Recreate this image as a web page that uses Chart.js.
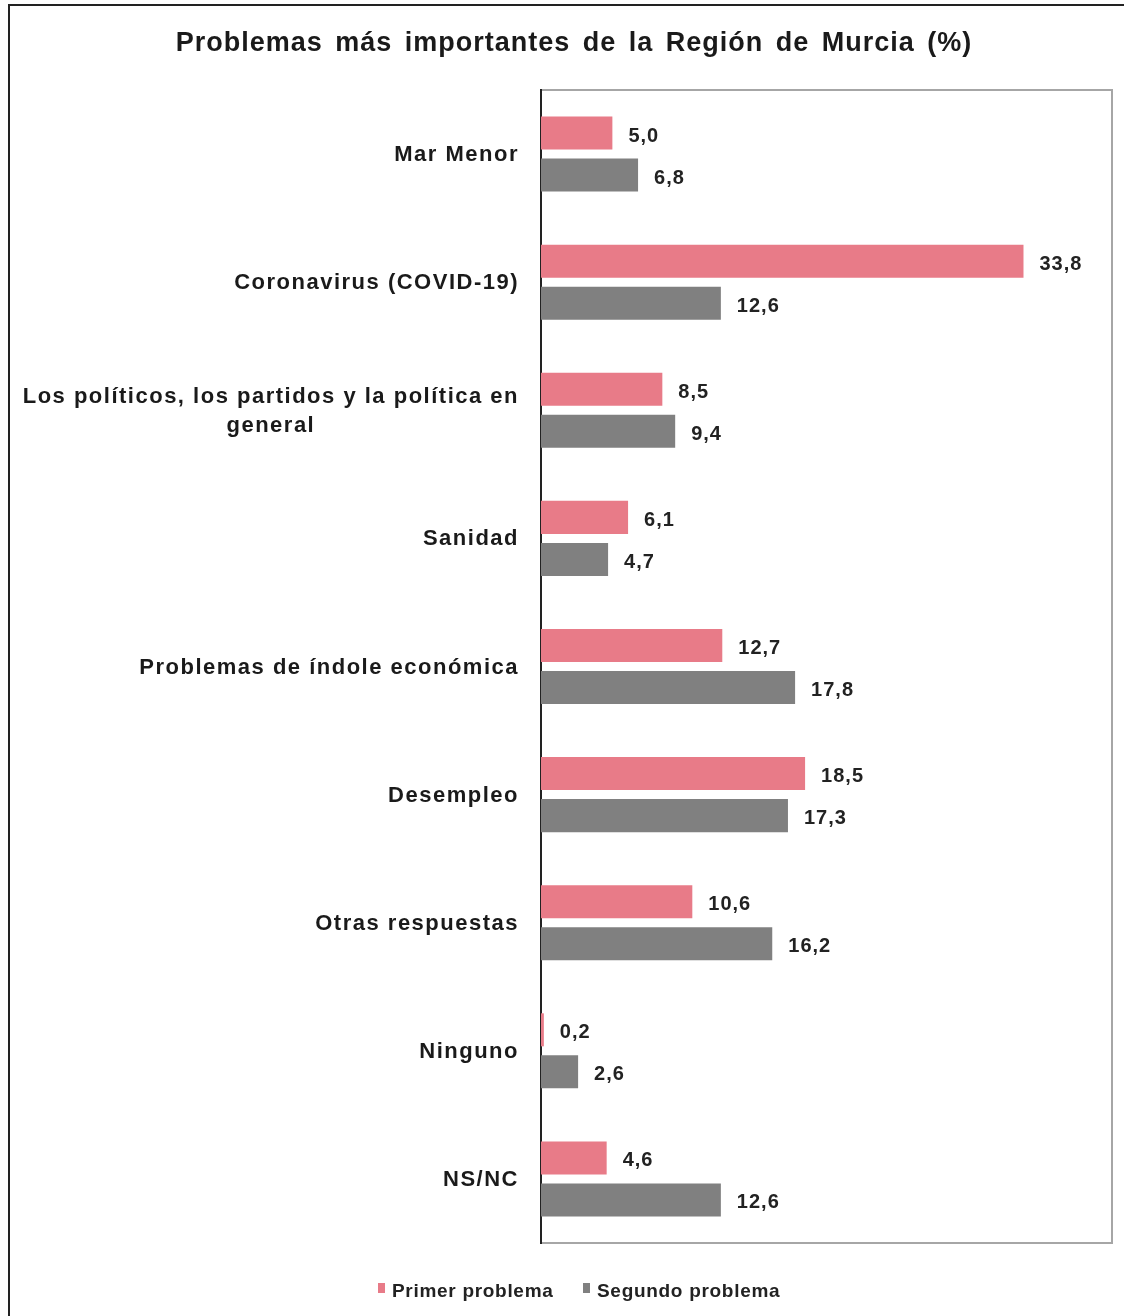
<!DOCTYPE html>
<html>
<head>
<meta charset="utf-8">
<script src="https://cdn.jsdelivr.net/npm/chart.js@4.4.0/dist/chart.umd.min.js"></script>
<style>
    html, body { margin: 0; padding: 0; background: #fff; }
    #wrap { width: 1130px; height: 1316px; position: relative; }
</style>
</head>
<body>
<div id="wrap"><canvas id="chart" width="1130" height="1316"></canvas></div>
<script>
const title = 'Problemas más importantes de la Región de Murcia (%)';
const categories = [
    'Mar Menor',
    'Coronavirus (COVID-19)',
    ['Los políticos, los partidos y la política en', 'general'],
    'Sanidad',
    'Problemas de índole económica',
    'Desempleo',
    'Otras respuestas',
    'Ninguno',
    'NS/NC'
];
const primerProblema = [5.0, 33.8, 8.5, 6.1, 12.7, 18.5, 10.6, 0.2, 4.6];
const segundoProblema = [6.8, 12.6, 9.4, 4.7, 17.8, 17.3, 16.2, 2.6, 12.6];

const PINK = '#e87b88';
const GRAY = '#808080';
const FONT = '"Liberation Sans", Arial, sans-serif';

// outer frame, plot frame and title
const framePlugin = {
    id: 'frame',
    beforeDraw(chart) {
        const ctx = chart.ctx;
        ctx.save();
        ctx.strokeStyle = '#222';
        ctx.lineWidth = 2;
        ctx.beginPath();
        ctx.moveTo(9, 1316);
        ctx.lineTo(9, 5);
        ctx.lineTo(1124, 5);
        ctx.stroke();
        const a = chart.chartArea;
        ctx.strokeStyle = '#a6a6a6';
        ctx.lineWidth = 2;
        ctx.strokeRect(a.left, a.top, a.right - a.left, a.bottom - a.top);

        ctx.font = 'bold 27px ' + FONT;
        ctx.letterSpacing = '1px';
        ctx.wordSpacing = '4px';
        ctx.fillStyle = '#1a1a1a';
        ctx.textBaseline = 'middle';
        ctx.textAlign = 'left';
        const w = ctx.measureText(title).width;
        ctx.fillText(title, 574 - w / 2, 44);
        ctx.restore();
    }
};

// category labels, wrapped lines centred inside a right-aligned block
const catLabels = {
    id: 'catLabels',
    afterDraw(chart) {
        const ctx = chart.ctx;
        const y = chart.scales.y;
        ctx.save();
        ctx.font = 'bold 22px ' + FONT;
        ctx.letterSpacing = '1.5px';
        ctx.fillStyle = '#1a1a1a';
        ctx.textBaseline = 'middle';
        ctx.textAlign = 'left';
        const right = chart.chartArea.left - 22;
        const lh = 29;
        categories.forEach((c, i) => {
            const lines = Array.isArray(c) ? c : [c];
            const widths = lines.map(l => ctx.measureText(l).width);
            const w = Math.max(...widths);
            const cx = right - w / 2;
            const cy = y.getPixelForValue(i) + 1;
            lines.forEach((l, j) => {
                ctx.fillText(l, cx - widths[j] / 2, cy + (j - (lines.length - 1) / 2) * lh);
            });
        });

        // legend
        ctx.font = 'bold 19px ' + FONT;
        ctx.letterSpacing = '0.7px';
        const items = [
            { x: 378, ds: chart.data.datasets[0] },
            { x: 583, ds: chart.data.datasets[1] }
        ];
        items.forEach(it => {
            ctx.fillStyle = it.ds.backgroundColor;
            ctx.fillRect(it.x, 1283, 7, 10);
            ctx.fillStyle = '#222';
            ctx.fillText(it.ds.label, it.x + 14, 1292);
        });
        ctx.restore();
    }
};

// value labels at bar ends
const valueLabels = {
    id: 'valueLabels',
    afterDatasetsDraw(chart) {
        const ctx = chart.ctx;
        ctx.save();
        ctx.font = 'bold 20px ' + FONT;
        ctx.letterSpacing = '1px';
        ctx.fillStyle = '#222';
        ctx.textBaseline = 'middle';
        ctx.textAlign = 'left';
        chart.data.datasets.forEach((ds, di) => {
            chart.getDatasetMeta(di).data.forEach((bar, i) => {
                ctx.fillText(ds.data[i].toFixed(1).replace('.', ','), bar.x + 16, bar.y + 3);
            });
        });
        ctx.restore();
    }
};

new Chart(document.getElementById('chart'), {
    type: 'bar',
    data: {
        labels: categories,
        datasets: [
            { label: 'Primer problema', data: primerProblema, backgroundColor: PINK },
            { label: 'Segundo problema', data: segundoProblema, backgroundColor: GRAY }
        ]
    },
    options: {
        indexAxis: 'y',
        responsive: false,
        animation: false,
        categoryPercentage: 0.656,
        barPercentage: 0.786,
        layout: { padding: { left: 10, right: 18, top: 90, bottom: 73 } },
        scales: {
            x: { display: false, min: 0, max: 40 },
            y: {
                grid: { display: false },
                border: { color: '#222', width: 2 },
                ticks: { display: false },
                afterFit(s) { s.width = 531; }
            }
        },
        plugins: {
            title: { display: false },
            legend: { display: false },
            tooltip: { enabled: false }
        }
    },
    plugins: [framePlugin, catLabels, valueLabels]
});
</script>
</body>
</html>
